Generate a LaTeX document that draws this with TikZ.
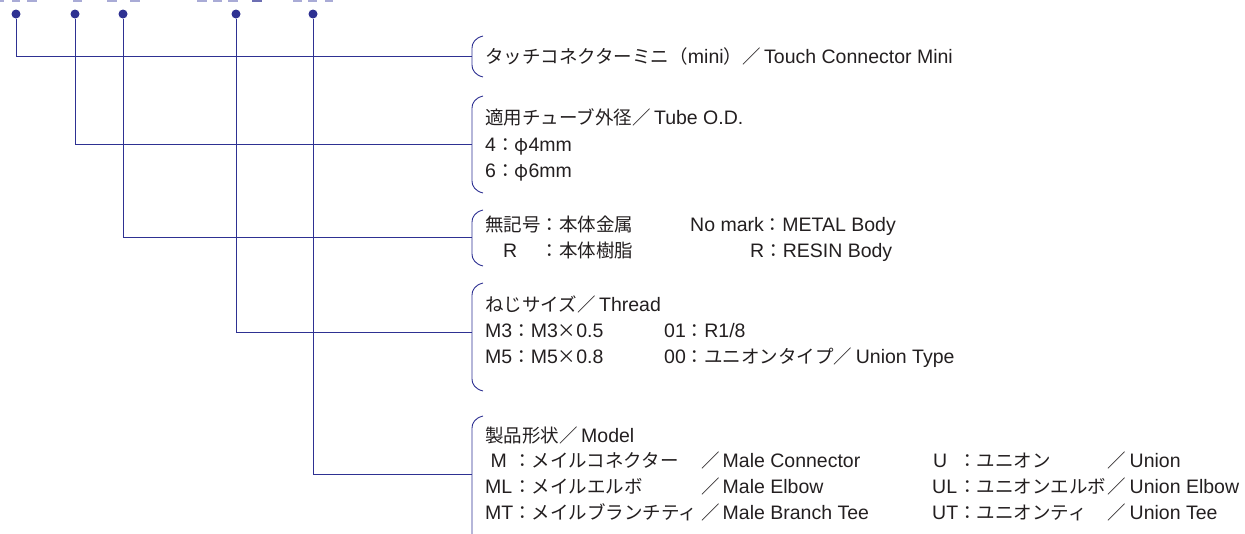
\documentclass[tikz,border=0pt]{standalone}
\usepackage{fontspec}
\setmainfont{Liberation Sans}
\newfontfamily\jp{Noto Sans CJK JP}[Scale=0.9487]
\usepackage{xcolor}
\usepackage{tikz}
\usetikzlibrary{positioning}

\definecolor{leadblue}{HTML}{2E3192}
\definecolor{fadeblue}{HTML}{A9ABD6}
\definecolor{inktext}{HTML}{231F20}

\begin{document}
\begin{tikzpicture}[
    x=1pt, y=-1pt,
    dot/.style={circle, fill=leadblue, inner sep=0pt, minimum size=9pt},
    lead/.style={draw=leadblue, line width=1pt},
    brace/.style={draw=leadblue, line width=0.9pt},
    txt/.style={anchor=base west, inner sep=0pt, text=inktext,
                font=\fontsize{19.5}{23}\selectfont},
    stub/.style={fill=fadeblue, draw=none},
]
    \useasboundingbox (0,0) rectangle (1245,533);

    % Cut-off part number (bottom edge only)
    \fill[stub] (0,0) rectangle (4,2);
    \fill[stub] (12,0) rectangle (20,2);
    \fill[stub] (27,0) rectangle (37,2);
    \fill[stub] (73,0) rectangle (82,2);
    \fill[stub] (107,0) rectangle (117,2);
    \fill[stub] (130,0) rectangle (140,2);
    \fill[stub] (197,0) rectangle (207,2);
    \fill[stub] (213,0) rectangle (222,2);
    \fill[stub] (228,0) rectangle (238,2);
    \fill[leadblue!70] (252,0) rectangle (262,2);
    \fill[stub] (293,0) rectangle (302,2);
    \fill[stub] (308,0) rectangle (317,2);
    \fill[stub] (325,0) rectangle (333,2);

    % Dots
    \node[dot] (series) at (16,14) {};
    \node[dot] (tube) at (75,14) {};
    \node[dot] (body) at (123,14) {};
    \node[dot] (thread) at (236,14) {};
    \node[dot] (model) at (313,14) {};

    % Bracket junctions
    \coordinate (jseries) at (472,56);
    \coordinate (jtube) at (472,144.5);
    \coordinate (jbody) at (472,237.5);
    \coordinate (jthread) at (472,332);
    \coordinate (jmodel) at (472,474.5);

    % Leader lines
    \draw[lead] (series) |- (jseries);
    \draw[lead] (tube) |- (jtube);
    \draw[lead] (body) |- (jbody);
    \draw[lead] (thread) |- (jthread);
    \draw[lead] (model) |- (jmodel);

    % Brackets
    \draw[brace] (483,36) .. controls (475,38) and (472,43) .. (472,48) -- (472,65) .. controls (472,70) and (475,75) .. (483,77);
    \draw[brace] (483,96) .. controls (475,98) and (472,103) .. (472,108) -- (472,181) .. controls (472,186) and (475,191) .. (483,193);
    \draw[brace] (483,210) .. controls (475,212) and (472,217) .. (472,222) -- (472,254) .. controls (472,259) and (475,264) .. (483,266);
    \draw[brace] (483,283) .. controls (475,285) and (472,290) .. (472,295) -- (472,379) .. controls (472,384) and (475,389) .. (483,391);
    \draw[brace] (483,416) .. controls (475,418) and (472,423) .. (472,428) -- (472,540);

    % Series
    \node[txt] (seriesname) at (485,63.5) {{\jp タッチコネクターミニ（}mini{\jp ）／}\kern3.5pt Touch Connector Mini};

    % Tube O.D.
    \node[txt] (tubehead) at (485,124.5) {{\jp 適用チューブ外径／}\kern3.5pt Tube O.D.};
    \node[txt] (tube4) at (485,151) {4{\jp ：φ}4mm};
    \node[txt] (tube6) at (485,177.5) {6{\jp ：φ}6mm};

    % Body material
    \node[txt] (metalja) at (485,231) {\jp 無記号：本体金属};
    \node[txt] (metalen) at (690,231) {No mark{\jp ：}METAL Body};
    \node[txt] (resinkey) at (503,257) {R};
    \node[txt] (resinja) at (540.5,257) {\jp ：本体樹脂};
    \node[txt] (resinen) at (750,257) {R{\jp ：}RESIN Body};

    % Thread
    \node[txt] (threadhead) at (485,311.5) {{\jp ねじサイズ／}\kern3.5pt Thread};
    \node[txt] (threadm3) at (485,337.5) {M3{\jp ：}M3{\jp ×}0.5};
    \node[txt] (thread01) at (664,337.5) {01{\jp ：}R1/8};
    \node[txt] (threadm5) at (485,363.5) {M5{\jp ：}M5{\jp ×}0.8};
    \node[txt] (thread00) at (664,363.5) {00{\jp ：ユニオンタイプ／}\kern3.5pt Union Type};

    % Model
    \node[txt] (modelhead) at (485,442) {{\jp 製品形状／}\kern3.5pt Model};
    \node[txt] (keym) at (490.5,467) {M};
    \node[txt] (keyml) at (485,493) {ML};
    \node[txt] (keymt) at (485,519) {MT};
    \node[txt] (jam) at (513,467) {\jp ：メイルコネクター};
    \node[txt] (jaml) at (513,493) {\jp ：メイルエルボ};
    \node[txt] (jamt) at (513,519) {\jp ：メイルブランチティ};
    \node[txt] (enm) at (701,467) {{\jp ／}\kern3pt Male Connector};
    \node[txt] (enml) at (701,493) {{\jp ／}\kern3pt Male Elbow};
    \node[txt] (enmt) at (701,519) {{\jp ／}\kern3pt Male Branch Tee};
    \node[txt] (keyu) at (933,467) {U};
    \node[txt] (keyul) at (932,493) {UL};
    \node[txt] (keyut) at (932,519) {UT};
    \node[txt] (jau) at (958,467) {\jp ：ユニオン};
    \node[txt] (jaul) at (958,493) {\jp ：ユニオンエルボ};
    \node[txt] (jaut) at (958,519) {\jp ：ユニオンティ};
    \node[txt] (enu) at (1107,467) {{\jp ／}\kern4pt Union};
    \node[txt] (enul) at (1107,493) {{\jp ／}\kern4pt Union Elbow};
    \node[txt] (enut) at (1107,519) {{\jp ／}\kern4pt Union Tee};
\end{tikzpicture}
\end{document}
